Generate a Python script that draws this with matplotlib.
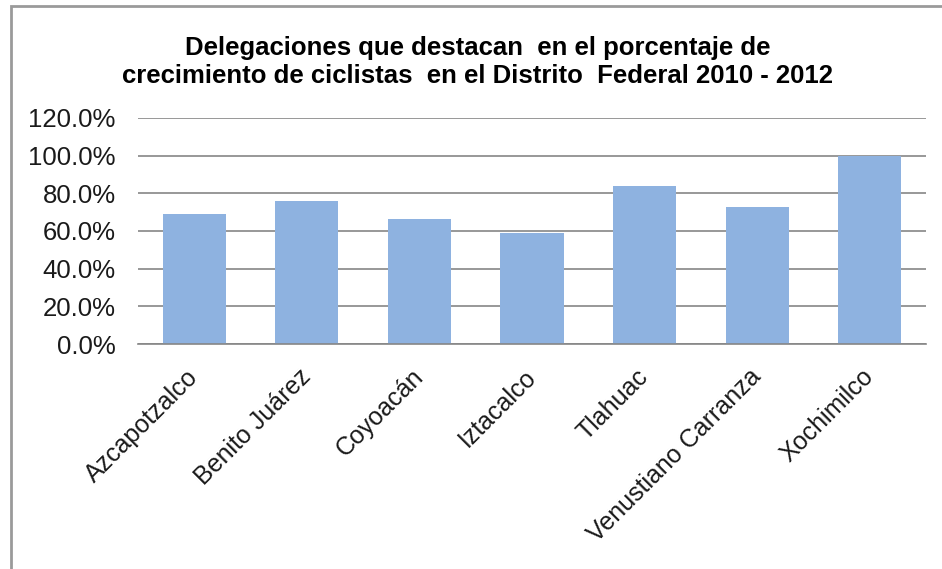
import matplotlib
matplotlib.use("Agg")
import matplotlib.pyplot as plt
from matplotlib.patches import Rectangle
from matplotlib.ticker import PercentFormatter

delegaciones = ["Azcapotzalco", "Benito Juárez", "Coyoacán", "Iztacalco",
                "Tlahuac", "Venustiano Carranza", "Xochimilco"]
crecimiento = [69.2, 75.7, 66.2, 58.8, 83.9, 72.6, 100.0]
yticks = [0, 20, 40, 60, 80, 100, 120]

plt.rcParams['font.family'] = ['Liberation Sans', 'DejaVu Sans']

W, H = 942, 569
fig = plt.figure(figsize=(W / 100, H / 100), dpi=100)
fig.patch.set_facecolor("white")

# marco exterior del grafico (solo se ven izquierda y arriba)
fig.patches.append(Rectangle((11 / W, -0.2), 1.2, 1.2 - 6 / H, transform=fig.transFigure,
                             fill=False, edgecolor="#9a9a9a", linewidth=2))

ax = fig.add_axes([138 / W, 1 - 344 / H, (926 - 138) / W, (344 - 118) / H])
x = range(len(delegaciones))
ax.bar(x, crecimiento, width=0.56, color="#8eb2e0", zorder=2)

ax.set_ylim(0, 120)
ax.set_xlim(-0.5, len(delegaciones) - 0.5)
ax.set_yticks(yticks)
ax.yaxis.set_major_formatter(PercentFormatter(decimals=1))
ax.grid(axis="y", color="#868686", linewidth=1.2, zorder=0)
for s in ["top", "right", "left"]:
    ax.spines[s].set_visible(False)
ax.spines["bottom"].set_color("#868686")
ax.spines["bottom"].set_linewidth(1.2)
ax.tick_params(axis="both", length=0, colors="#1a1a1a")
ax.tick_params(axis="y", pad=16, labelsize=18.5)
ax.set_xticks(list(x))
ax.set_xticklabels(delegaciones, rotation=45, ha="right", va="center",
                   rotation_mode="anchor")
ax.tick_params(axis="x", pad=21, labelsize=18)

fig.text(478 / W, 1 - 62 / H,
         "Delegaciones que destacan  en el porcentaje de\ncrecimiento de ciclistas  en el Distrito  Federal 2010 - 2012",
         ha="center", va="center", fontsize=18.5, fontweight="bold", linespacing=1.17)

fig.savefig("out.png", dpi=100)
